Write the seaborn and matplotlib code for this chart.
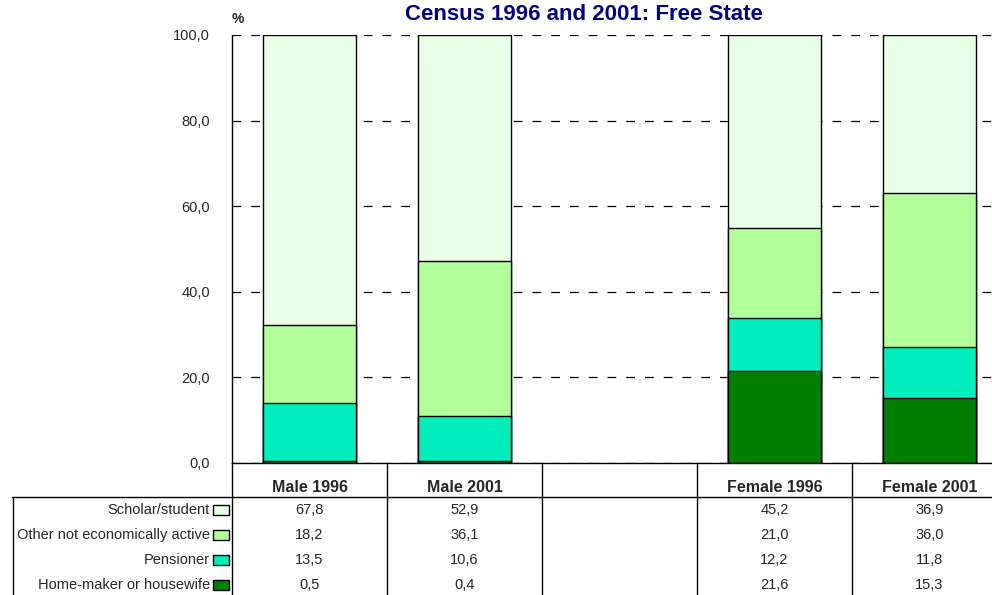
import matplotlib
matplotlib.use("Agg")
import matplotlib.pyplot as plt
import matplotlib.transforms as mtransforms
from matplotlib.patches import Rectangle
from matplotlib.lines import Line2D
import seaborn as sns
import pandas as pd
import numpy as np

# data
groups = ["Male 1996", "Male 2001", "Female 1996", "Female 2001"]
slots = ["Male 1996", "Male 2001", "", "Female 1996", "Female 2001"]
series = ["Scholar/student", "Other not economically active", "Pensioner", "Home-maker or housewife"]
scholar = [67.8, 52.9, 45.2, 36.9]
other = [18.2, 36.1, 21.0, 36.0]
pensioner = [13.5, 10.6, 12.2, 11.8]
homemaker = [0.5, 0.4, 21.6, 15.3]
colors = ["#E8FFE8", "#B3FF99", "#00EEBB", "#007F00"]
yticks = [0, 20, 40, 60, 80, 100]

values = [scholar, other, pensioner, homemaker]

sns.set_theme(style="white")
plt.rcParams["font.family"] = ["Liberation Sans", "DejaVu Sans"]

W, H = 992, 595
fig = plt.figure(figsize=(W / 100, H / 100), dpi=100)
# axes run past the right edge, as in the original
ax = fig.add_axes([232 / W, (H - 463) / H, 775 / W, 428 / H])

# stacked bars: draw cumulative totals from the top series down
stack = np.array(values[::-1])          # bottom -> top
cum = np.cumsum(stack, axis=0)
for k in range(len(series) - 1, -1, -1):
    df = pd.DataFrame({"group": groups, "value": cum[k]})
    sns.barplot(data=df, x="group", y="value", order=slots, color=colors[::-1][k],
                saturation=1, width=0.6, edgecolor="black", linewidth=1,
                errorbar=None, ax=ax)

ax.set_ylim(0, 100)
ax.set_xlim(-0.5, 4.5)
ax.set_yticks(yticks)
ax.set_yticklabels([f"{t:.1f}".replace(".", ",") for t in yticks], fontsize=10.5)
ax.tick_params(axis="y", length=0, pad=16)
ax.set_xticks([])
ax.set_xlabel("")
ax.set_ylabel("")
ax.yaxis.grid(True, linestyle=(0, (7, 8)), color="black", linewidth=0.9)
ax.set_axisbelow(True)
for s in ["top", "right"]:
    ax.spines[s].set_visible(False)
for s in ["left", "bottom"]:
    ax.spines[s].set_color("black")
    ax.spines[s].set_linewidth(1)

fig.text(584 / W, 1 - 15 / H, "Census 1996 and 2001: Free State", ha="center", va="center",
         fontsize=16, fontweight="bold", color="#000080")
fig.text(238 / W, 1 - 19 / H, "%", ha="center", va="center", fontsize=10, fontweight="bold")

# data table below the chart
tr = mtransforms.blended_transform_factory(ax.transData, fig.transFigure)


def fy(px):
    return 1 - px / H


for i, name in enumerate(slots):
    ax.text(i, fy(487), name, transform=tr, ha="center", va="center",
            fontsize=11.5, fontweight="bold", clip_on=False)
    if i < len(slots) - 1:
        ax.add_line(Line2D([i + 0.5, i + 0.5], [fy(463), 0], transform=tr,
                           color="black", lw=1, clip_on=False))

ax.add_line(Line2D([-0.5, -0.5], [fy(463), 0], transform=tr, color="black", lw=1, clip_on=False))
fig.add_artist(Line2D([12 / W, 1], [fy(497), fy(497)], color="black", lw=1))
fig.add_artist(Line2D([12.5 / W, 12.5 / W], [fy(497), 0], color="black", lw=1))

row_y = [510, 535, 560, 585]
for r, name in enumerate(series):
    fig.text(210 / W, fy(row_y[r]), name, ha="right", va="center", fontsize=10.5)
    fig.add_artist(Rectangle((213 / W, fy(row_y[r] + 5)), 16 / W, 10 / H,
                             facecolor=colors[r], edgecolor="black", lw=1))
    for g, name_g in enumerate(groups):
        i = slots.index(name_g)
        ax.text(i, fy(row_y[r]), f"{values[r][g]:.1f}".replace(".", ","), transform=tr,
                ha="center", va="center", fontsize=10.5, clip_on=False)

fig.savefig("out.png", dpi=100)
